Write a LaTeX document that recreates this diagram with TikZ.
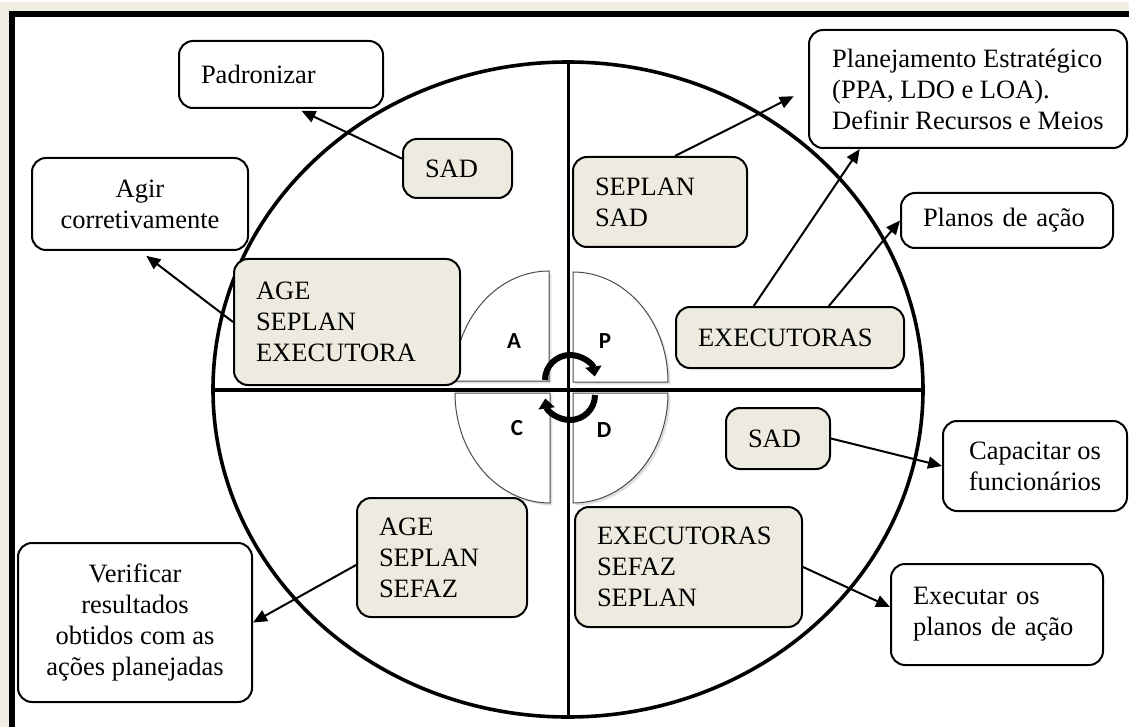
\documentclass[tikz,border=0pt]{standalone}
\usepackage{fontspec}
\setmainfont{Liberation Serif}
\newfontfamily\pdcafont{Carlito}
\usetikzlibrary{arrows.meta,shadows}

\definecolor{actorfill}{HTML}{EDEBE0}
\definecolor{haze}{HTML}{F1EEE4}
\newcommand{\boxfont}{\fontsize{13.25}{15.5}\selectfont}

\tikzset{
  actor/.style={draw, line width=1pt, fill=actorfill, rounded corners=7pt, align=left, inner xsep=11pt, font=\boxfont},
  goal/.style={draw, line width=1pt, fill=white, rounded corners=7pt, inner xsep=11pt, font=\boxfont},
  flow/.style={-{Triangle[length=7pt,width=6pt]}, line width=1pt},
  quad/.style={draw=black!70, line width=0.5pt, fill=white, drop shadow={opacity=0.25, shadow xshift=1.2pt, shadow yshift=-1.2pt}},
  cyclearrow/.style={-{Triangle[length=5pt,width=8pt]}, line width=3pt},
  pdca/.style={font=\pdcafont\bfseries\fontsize{11.5}{12}\selectfont},
}

\begin{document}
\begin{tikzpicture}[x=0.5pt, y=-0.5pt]
    \useasboundingbox (0,0) rectangle (1129,727);
    \fill[white] (-20,-20) rectangle (1160,760);

    % frame
    \draw[haze, line width=5pt] (5,740) -- (5,7) -- (1140,7);
    \draw[line width=3pt] (12,740) -- (12,14) -- (1140,14);

    % ring and cross
    \draw[line width=1.8pt] (568,389.5) ellipse[x radius=177.5pt, y radius=163.75pt];
    \draw[line width=1.5pt] (568,62) -- (568,717);
    \draw[line width=2pt] (213,390) -- (923,390);

    % PDCA quadrants
    \draw[quad] (549,381) -- (549,271) arc[start angle=90, end angle=180, x radius=47.5pt, y radius=55pt] -- cycle;
    \draw[quad] (573,382) -- (573,272) arc[start angle=90, end angle=0, x radius=47.5pt, y radius=55pt] -- cycle;
    \draw[quad] (550,393) -- (455,393) arc[start angle=180, end angle=270, x radius=47.5pt, y radius=55pt] -- cycle;
    \draw[quad] (573,393) -- (573,503) arc[start angle=270, end angle=360, x radius=47.5pt, y radius=55pt] -- cycle;

    \node[pdca] (lblA) at (514,341) {A};
    \node[pdca] (lblP) at (605,341) {P};
    \node[pdca] (lblC) at (517,428) {C};
    \node[pdca] (lblD) at (604,430) {D};

    % actors
    \node[actor, text width=32.5pt, minimum height=29.5pt] (sadA) at (457.5,168.5) {SAD};
    \node[actor, text width=65pt, minimum height=45pt] (seplanP) at (660,202) {SEPLAN\\SAD};
    \node[actor, text width=92pt, minimum height=30.5pt] (execP) at (790,337.5) {EXECUTORAS};
    \node[actor, text width=91pt, minimum height=63pt] (ageA) at (347,322) {AGE\\SEPLAN\\EXECUTORA};
    \node[actor, text width=30pt, minimum height=30.5pt] (sadD) at (778,438.5) {SAD};
    \node[actor, text width=91.5pt, minimum height=60pt] (execD) at (688.5,567) {EXECUTORAS\\SEFAZ\\SEPLAN};
    \node[actor, text width=63pt, minimum height=59.5pt] (ageC) at (442,557.5) {AGE\\SEPLAN\\SEFAZ};

    % goals
    \node[goal, align=left, text width=80pt, minimum height=33.5pt] (padr) at (281,74.5) {Padronizar};
    \node[goal, align=center, minimum width=108pt, minimum height=46pt] (agir) at (140,204) {Agir\\corretivamente};
    \node[goal, align=left, minimum width=159pt, minimum height=59pt] (plan) at (968,89) {Planejamento Estratégico\\(PPA, LDO e LOA).\\Definir Recursos e Meios};
    \node[goal, align=left, text width=84pt, minimum height=27.5pt] (planos) at (1007,220.5) {Planos de ação};
    \node[goal, align=center, minimum width=92pt, minimum height=45pt] (capac) at (1035,466) {Capacitar os\\funcionários};
    \node[goal, align=left, text width=84pt, minimum height=50.5pt] (execu) at (997,614.5) {Executar os\\planos de ação};
    \node[goal, align=center, minimum width=117pt, minimum height=79.5pt] (verif) at (135,622.5) {Verificar\\resultados\\obtidos com as\\ações planejadas};

    % connectors
    \draw[flow, shorten >=2pt] (sadA.170) -- (padr.-64);
    \draw[flow, shorten >=4pt] (ageA.west) -- (agir.south);
    \draw[flow, shorten >=8pt] (seplanP.72) -- (plan.west);
    \draw[flow] (execP.139) -- (plan.-151);
    \draw[flow] (execP.39) -- (planos.west);
    \draw[flow] (sadD.east) -- (capac.west);
    \draw[flow] (execD.east) -- (execu.176);
    \draw[flow] (ageC.185) -- (verif.east);

    % cycle arrows
    \draw[cyclearrow] (545,380) arc[start angle=180, end angle=8, radius=12.5pt];
    \draw[cyclearrow] (595,395) arc[start angle=0, end angle=-172, radius=12.5pt];

\end{tikzpicture}
\end{document}
